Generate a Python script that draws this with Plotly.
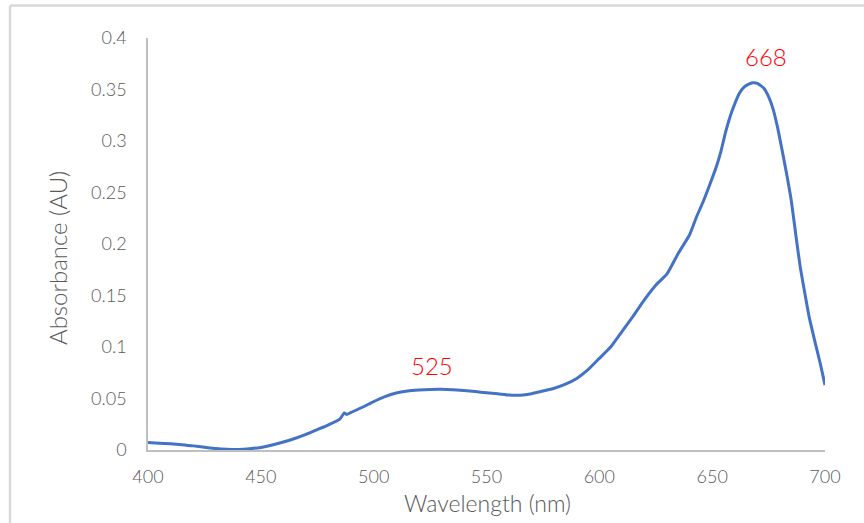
import plotly.graph_objects as go

# Absorption spectrum, wavelength in nm and absorbance in AU
wavelength = [400, 405, 410, 415, 420, 425, 430, 435, 440, 445, 450, 455, 460, 465,
              470, 475, 480, 485, 487, 488, 490, 495, 500, 505, 510, 515, 520, 525,
              530, 535, 540, 545, 550, 555, 560, 565, 570, 575, 580, 585, 590, 595,
              600, 605, 610, 615, 620, 625, 630, 635, 640, 643, 646, 649, 652, 654,
              656, 658, 660, 662, 664, 666, 668, 670, 673, 675, 677, 679, 681, 683,
              685, 687, 689, 691, 693, 696, 698, 700]
absorbance = [0.0072, 0.0066, 0.0060, 0.0052, 0.0040, 0.0027, 0.0015, 0.0008, 0.0006,
              0.0012, 0.0025, 0.0048, 0.0078, 0.0112, 0.0152, 0.0198, 0.0245, 0.0300,
              0.0360, 0.0345, 0.0365, 0.0415, 0.0470, 0.0518, 0.0553, 0.0572, 0.0582,
              0.0588, 0.0589, 0.0585, 0.0577, 0.0567, 0.0556, 0.0546, 0.0533, 0.0532,
              0.0547, 0.0572, 0.0600, 0.0640, 0.0695, 0.0780, 0.0890, 0.1000, 0.1150,
              0.1300, 0.1460, 0.1600, 0.1710, 0.1910, 0.2090, 0.2260, 0.2410, 0.2580,
              0.2760, 0.2910, 0.3090, 0.3240, 0.3360, 0.3460, 0.3520, 0.3550, 0.3565,
              0.3560, 0.3510, 0.3430, 0.3310, 0.3130, 0.2910, 0.2680, 0.2430, 0.2100,
              0.1780, 0.1530, 0.1290, 0.1010, 0.0830, 0.0630]

# Peak labels: text and placement in data units
peak_labels = ["525", "668"]
peak_label_x = [526, 674]
peak_label_y = [0.0825, 0.382]

x_ticks = [400, 450, 500, 550, 600, 650, 700]
y_ticks = [0, 0.05, 0.1, 0.15, 0.2, 0.25, 0.3, 0.35, 0.4]
y_tick_text = ["0", "0.05", "0.1", "0.15", "0.2", "0.25", "0.3", "0.35", "0.4"]

FONT = "Lato"
WEIGHT = 300
GREY = "#595959"
AXIS_GREY = "#bfbfbf"

fig = go.Figure()
fig.add_trace(go.Scatter(
    x=wavelength, y=absorbance, mode="lines",
    line=dict(color="#4472C4", width=3, shape="spline", smoothing=0.5),
    showlegend=False, hoverinfo="x+y",
))

for txt, lx, ly in zip(peak_labels, peak_label_x, peak_label_y):
    fig.add_annotation(x=lx, y=ly, text=txt, showarrow=False,
                       font=dict(family=FONT, size=24, color="#ff0000", weight=WEIGHT))

# Axis titles
fig.add_annotation(xref="paper", yref="paper", x=0.5022, y=-0.1286,
                   xanchor="center", yanchor="middle", showarrow=False,
                   text="Wavelength (nm)",
                   font=dict(family=FONT, size=23, color=GREY, weight=WEIGHT))
fig.add_annotation(xref="paper", yref="paper", x=-0.1344, y=0.4660,
                   xanchor="center", yanchor="middle", showarrow=False,
                   textangle=-90, text="Absorbance (AU)",
                   font=dict(family=FONT, size=24, color=GREY, weight=WEIGHT))

# Light outer frame (top and left edges)
fig.add_shape(type="line", xref="paper", yref="paper",
              x0=-0.2038, x1=1.1, y0=1.0789, y1=1.0789,
              line=dict(color="#d9d9d9", width=2.5))
fig.add_shape(type="line", xref="paper", yref="paper",
              x0=-0.2038, x1=-0.2038, y0=-0.2, y1=1.0789,
              line=dict(color="#d9d9d9", width=2.5))

fig.update_layout(
    width=864, height=523,
    margin=dict(l=148, r=39, t=38, b=73),
    paper_bgcolor="white", plot_bgcolor="white",
    font=dict(family=FONT, color=GREY),
    xaxis=dict(
        range=[400, 700], tickvals=x_ticks, showgrid=False, zeroline=False,
        showline=True, linecolor=AXIS_GREY, linewidth=1.5,
        ticks="", ticklabelstandoff=10,
        tickfont=dict(family=FONT, size=18, color=GREY, weight=WEIGHT),
        automargin=False,
    ),
    yaxis=dict(
        range=[0, 0.4], tickvals=y_ticks, ticktext=y_tick_text,
        showgrid=False, zeroline=False,
        showline=True, linecolor=AXIS_GREY, linewidth=1.5,
        ticks="", ticklabelstandoff=16,
        tickfont=dict(family=FONT, size=18, color=GREY, weight=WEIGHT),
        automargin=False,
    ),
)

fig.write_html("out.html")
